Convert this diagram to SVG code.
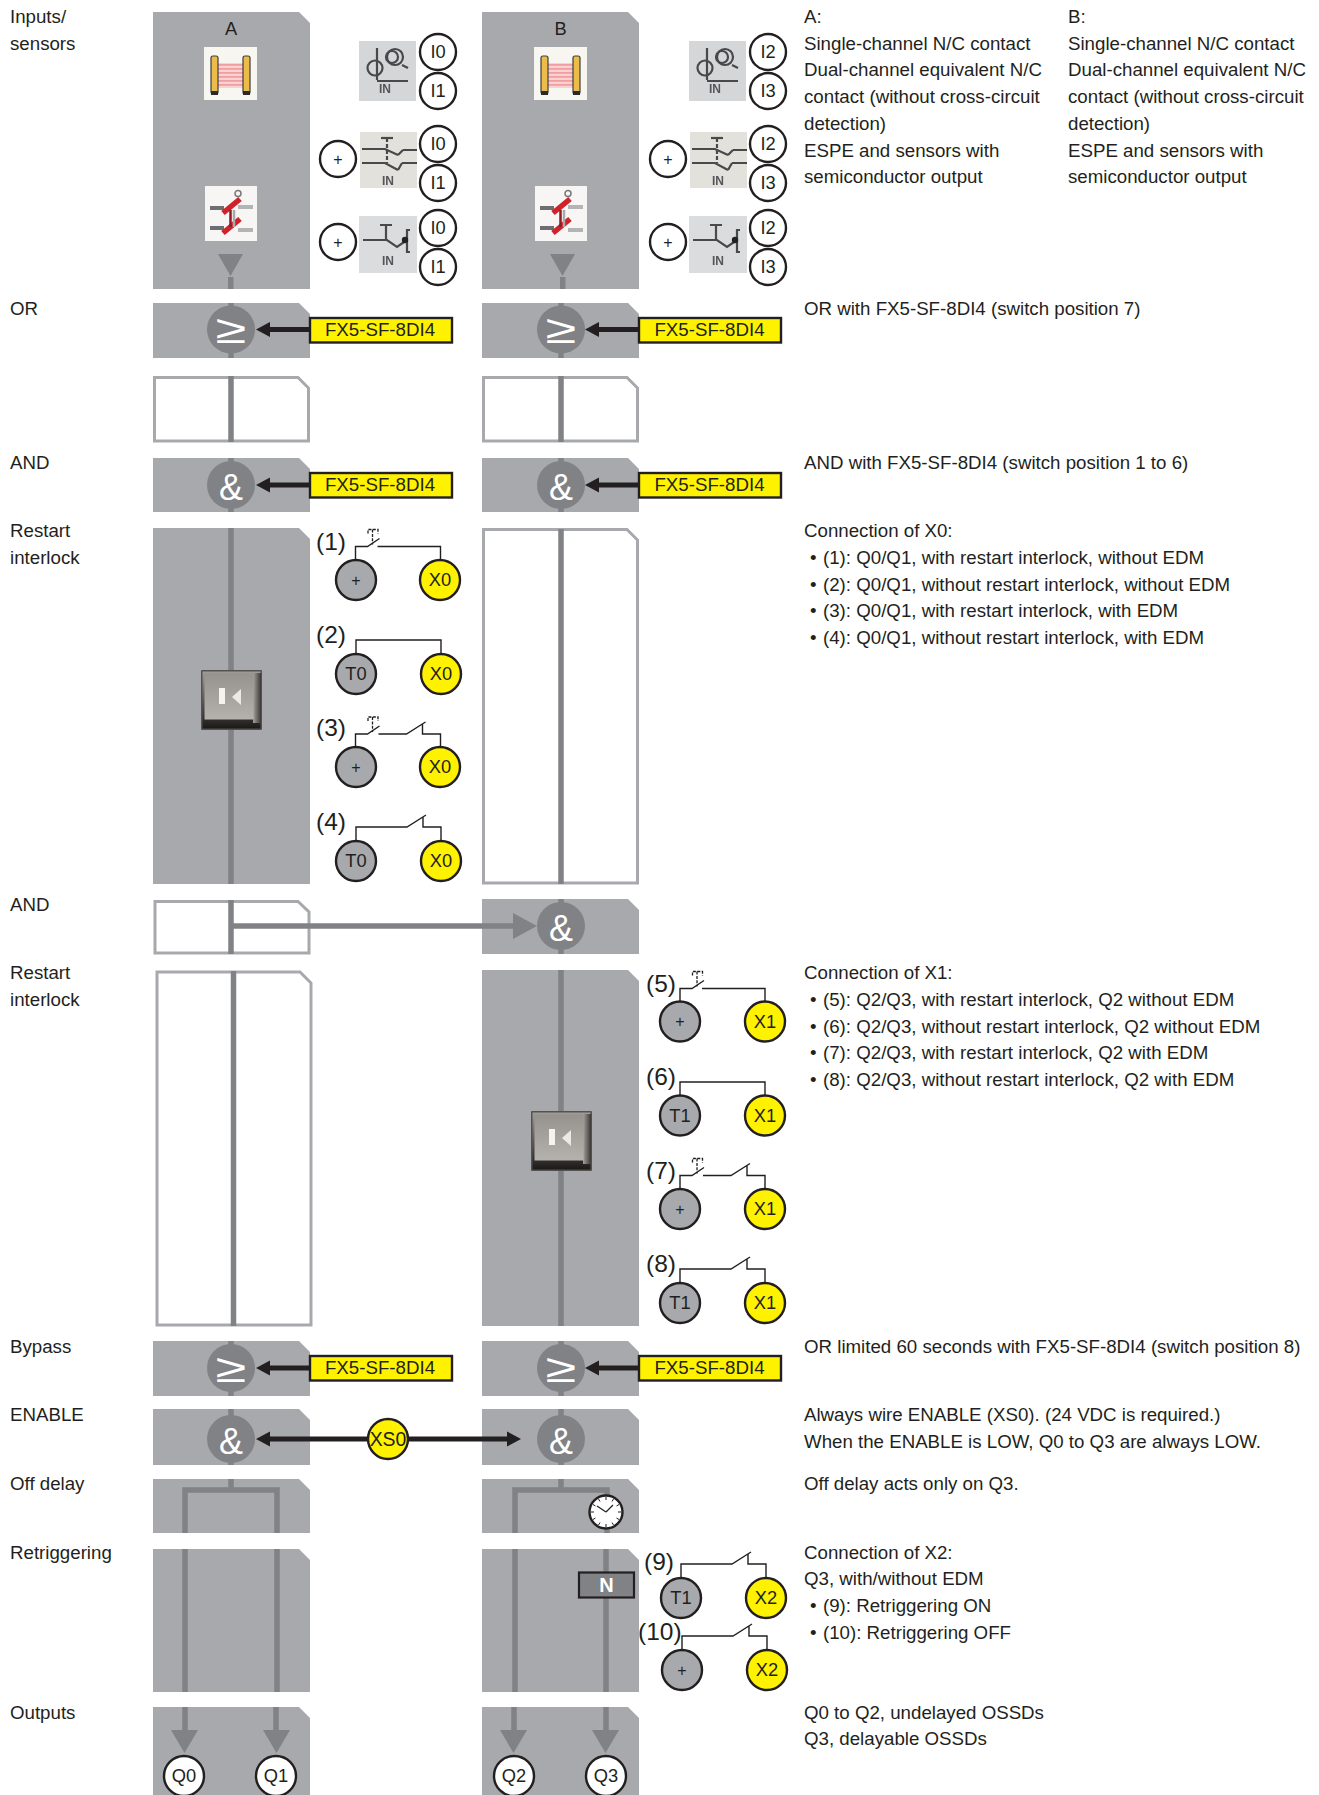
<svg xmlns="http://www.w3.org/2000/svg" width="1319" height="1795" viewBox="0 0 1319 1795">
<style>
text{font-family:"Liberation Sans",Arial,sans-serif;fill:#231f20}
.t{font-size:18.7px}
.p{fill:#a7a9ac}
.b{fill:#fff;stroke:#a7a9ac;stroke-width:3}
.s{fill:none;stroke:#808285;stroke-width:5.5}
.g{fill:#808285}
.ge{font-size:40px;fill:#fff;text-anchor:middle}
.am{font-size:36px;fill:#fff;text-anchor:middle}
.w{fill:#fff;stroke:#231f20;stroke-width:2.4}
.y{fill:#fff200;stroke:#231f20;stroke-width:2.4}
.d{fill:#a7a9ac;stroke:#231f20;stroke-width:2.4}
.c{font-size:18.3px;text-anchor:middle}
.pl{font-size:16px;text-anchor:middle}
.bx{font-size:18.7px;text-anchor:middle}
.n{font-size:24.5px}
.wire{fill:none;stroke:#231f20;stroke-width:1.4}
.dash{fill:none;stroke:#231f20;stroke-width:1.3;stroke-dasharray:3 1.4}
.ar{fill:none;stroke:#231f20;stroke-width:4.8}
.ah{fill:#231f20}
.box{fill:#fff200;stroke:#231f20;stroke-width:2.4}
.ic{fill:none;stroke:#47484b;stroke-width:2.2}
.in{font-size:12px;font-weight:bold;text-anchor:middle;fill:#55565a}
</style>
<defs>
<filter id="soft" x="-5%" y="-5%" width="110%" height="110%"><feGaussianBlur stdDeviation="0.7"/></filter>
<linearGradient id="btnB" x1="0" y1="0" x2="0" y2="1"><stop offset="0" stop-color="#a09c98"/><stop offset="1" stop-color="#1c1a19"/></linearGradient>
<linearGradient id="btnR" x1="0" y1="0" x2="1" y2="0"><stop offset="0" stop-color="#a5a19d"/><stop offset="1" stop-color="#3a3735"/></linearGradient>
<linearGradient id="btnF" x1="0" y1="0" x2="0" y2="1"><stop offset="0" stop-color="#96928e"/><stop offset="1" stop-color="#b5b1ad"/></linearGradient>
<g id="curtain" filter="url(#soft)">
<rect width="53" height="53" fill="#f8f6f1"/>
<rect x="13" y="16" width="27" height="25" fill="#f9d3d2"/>
<g fill="#ef9fa2"><rect x="13" y="17" width="27" height="1.800"/><rect x="13" y="21" width="27" height="1.800"/><rect x="13" y="25" width="27" height="1.800"/><rect x="13" y="29" width="27" height="1.800"/><rect x="13" y="33" width="27" height="1.800"/><rect x="13" y="37" width="27" height="1.800"/></g>
<rect x="7" y="9" width="7" height="38" rx="2" fill="#ecbc4b" stroke="#3f3e3a" stroke-width="1.200"/>
<rect x="39" y="9" width="7" height="38" rx="2" fill="#ecbc4b" stroke="#3f3e3a" stroke-width="1.200"/>
<rect x="7" y="44" width="7" height="4" fill="#2c2c2a"/><rect x="39" y="44" width="7" height="4" fill="#2c2c2a"/>
</g>
<g id="guard" filter="url(#soft)">
<rect width="52" height="55" fill="#f7f6f4"/>
<path d="M5 22H19M5 42H19" stroke="#6d6e71" stroke-width="4"/>
<path d="M33 21H48M33 44H48" stroke="#b3b4b6" stroke-width="4"/>
<circle cx="33" cy="7.500" r="3" fill="none" stroke="#77787b" stroke-width="1.500"/>
<path d="M35 13L18 27M35 33L18 47" stroke="#cf2229" stroke-width="5.500"/>
<path d="M25.500 24V41" stroke="#8e1a20" stroke-width="2.500"/><path d="M29 24V41" stroke="#a8a9ab" stroke-width="2.500"/>
</g>
<g id="sw1" filter="url(#soft)">
<rect width="57" height="60" fill="#d5d6d8"/>
<circle cx="16" cy="27" r="7.500" class="ic"/><path d="M18 7V39M18 40H49" class="ic"/>
<circle cx="36" cy="16" r="8" class="ic"/><circle cx="33" cy="16" r="6" class="ic"/><path d="M43 24L49 27" class="ic"/>
<text x="26" y="52" class="in">IN</text>
</g>
<g id="sw2" filter="url(#soft)">
<rect width="57" height="56" fill="#e3e1db"/>
<path d="M2 17H25L38 23M43 18H57M2 31H25L38 38M42 31H57" class="ic"/>
<path d="M27 6V31" class="ic" stroke-dasharray="4 2"/><path d="M21 6H33" class="ic"/>
<path d="M38 23L43 18M38 38L42 31" class="ic"/>
<text x="28" y="53" class="in">IN</text>
</g>
<g id="sw3" filter="url(#soft)">
<rect width="58" height="57" fill="#dbdcdd"/>
<path d="M4 24H28L38 31L48 24M27 9V24M21 9H33M51 14H48V36H51" class="ic"/>
<circle cx="46" cy="24" r="3.200" fill="#222"/>
<text x="29" y="49" class="in">IN</text>
</g>
<g id="start"><path d="M0 13V0H12L24 -8M22 0H85V13" class="wire"/><path d="M12.500 -13V-17H22.500V-13M17 -17V-2" class="dash"/></g>
<g id="startedm"><path d="M0 13V0H12L24 -8M23 0H51L70 -12M67 -10V0H85V13" class="wire"/><path d="M12.500 -13V-17H22.500V-13M17 -17V-2" class="dash"/></g>
<g id="edm"><path d="M0 14V0H51L70 -12M67 -10V0H85V14" class="wire"/></g>
<g id="btnG">
<rect width="61" height="60" rx="1" fill="#55514e"/>
<rect x="1.500" y="1.500" width="58" height="57" fill="url(#btnB)"/>
<rect x="52" y="3" width="8" height="50" fill="url(#btnR)"/>
<rect x="3.500" y="3.500" width="49" height="46" fill="url(#btnF)"/>
<g filter="url(#soft)"><rect x="18" y="18" width="6" height="16" fill="#f6f3ee"/><path d="M40 19V35L31 27Z" fill="#ece9e4"/></g>
</g>
</defs>

<g id="lane-labels">
<text class="t" x="10" y="23">Inputs/</text><text class="t" x="10" y="50">sensors</text>
<text class="t" x="10" y="315">OR</text>
<text class="t" x="10" y="469">AND</text>
<text class="t" x="10" y="537">Restart</text><text class="t" x="10" y="564">interlock</text>
<text class="t" x="10" y="911">AND</text>
<text class="t" x="10" y="979">Restart</text><text class="t" x="10" y="1006">interlock</text>
<text class="t" x="10" y="1353">Bypass</text>
<text class="t" x="10" y="1421">ENABLE</text>
<text class="t" x="10" y="1490">Off delay</text>
<text class="t" x="10" y="1559">Retriggering</text>
<text class="t" x="10" y="1719">Outputs</text>
</g>

<g id="panels-a">
<path class="p" d="M153 12H299L310 23V289H153Z"/>
<path class="p" d="M153 303H299L310 314V358H153Z"/>
<path class="b" d="M154.500 377.500H298L308.500 388V441H154.500Z"/>
<path class="p" d="M153 458H299L310 469V512H153Z"/>
<path class="p" d="M153 528H299L310 539V884H153Z"/>
<path class="b" d="M155 901.500H298L309 912V953H155Z"/>
<path class="b" d="M157 972H300L311 983V1325H157Z"/>
<path class="p" d="M153 1341H299L310 1352V1396H153Z"/>
<path class="p" d="M153 1409H299L310 1420V1465H153Z"/>
<path class="p" d="M153 1479H299L310 1490V1533H153Z"/>
<path class="p" d="M153 1549H299L310 1560V1692H153Z"/>
<path class="p" d="M153 1707H299L310 1718V1795H153Z"/>
</g>
<g id="panels-b">
<path class="p" d="M482 12H628L639 23V289H482Z"/>
<path class="p" d="M482 303H628L639 314V358H482Z"/>
<path class="b" d="M483.500 377.500H627L637.500 388V441H483.500Z"/>
<path class="p" d="M482 458H628L639 469V512H482Z"/>
<path class="b" d="M483.500 529.500H627L637.500 540V883H483.500Z"/>
<path class="p" d="M482 899H628L639 910V954H482Z"/>
<path class="p" d="M482 970H628L639 981V1326H482Z"/>
<path class="p" d="M482 1341H628L639 1352V1396H482Z"/>
<path class="p" d="M482 1409H628L639 1420V1465H482Z"/>
<path class="p" d="M482 1479H628L639 1490V1533H482Z"/>
<path class="p" d="M482 1549H628L639 1560V1692H482Z"/>
<path class="p" d="M482 1707H628L639 1718V1795H482Z"/>
</g>

<g id="connectors">
<path class="s" d="M231 303V358M231 376V442M231 458V512M231 528V884M231 900V954"/>
<path class="s" d="M233.500 971V1326"/>
<path class="s" d="M231 1341V1396M231 1409V1465M231 1479V1490M185 1533V1490H277V1533"/>
<path class="s" d="M185 1549V1692M277 1549V1692M185 1707V1735M276 1707V1735"/>
<path class="s" d="M561 303V358M561 376V442M561 458V512M561 529V884M561 899V954M561 970V1326"/>
<path class="s" d="M561 1341V1396M561 1409V1465M561 1479V1490M515 1533V1490H607V1533"/>
<path class="s" d="M515 1549V1692M606 1549V1692M514 1707V1735M606 1707V1735"/>
<path class="s" d="M231 926H516"/>
<path class="g" d="M513 913L537 926L513 939Z"/>
<path class="g" d="M171 1730H198L184.500 1753Z"/><path class="g" d="M263 1730H290L276.500 1753Z"/>
<path class="g" d="M500 1730H527L513.500 1753Z"/><path class="g" d="M592 1730H619L605.500 1753Z"/>
<path class="g" d="M218 254H243L230.500 276Z"/><rect class="g" x="228" y="277" width="5.500" height="12"/>
<path class="g" d="M550 254H575L562.500 276Z"/><rect class="g" x="560" y="277" width="5.500" height="12"/>

<path class="ar" d="M309 329.500H267"/><path class="ah" d="M256 329.500L270 322V337Z"/>
<path class="ar" d="M639 329.500H596"/><path class="ah" d="M585 329.500L599 322V337Z"/>
<path class="ar" d="M309 485H267"/><path class="ah" d="M256 485L270 477.500V492.500Z"/>
<path class="ar" d="M639 485H596"/><path class="ah" d="M585 485L599 477.500V492.500Z"/>
<path class="ar" d="M309 1368H267"/><path class="ah" d="M256 1368L270 1360.500V1375.500Z"/>
<path class="ar" d="M639 1368H596"/><path class="ah" d="M585 1368L599 1360.500V1375.500Z"/>
<path class="ar" d="M267 1439H510"/><path class="ah" d="M256 1439L270 1431.500V1446.500Z"/><path class="ah" d="M521 1439L507 1431.500V1446.500Z"/>
<use href="#start" transform="translate(355.500 546.500)"/>
<path class="wire" d="M356 654V640H441V654"/>
<use href="#startedm" transform="translate(355.500 734)"/>
<use href="#edm" transform="translate(356 827)"/>
<use href="#start" transform="translate(680 988.500)"/>
<path class="wire" d="M680 1096V1082H765V1096"/>
<use href="#startedm" transform="translate(680 1175.500)"/>
<use href="#edm" transform="translate(680 1269)"/>
<use href="#edm" transform="translate(681 1564)"/>
<use href="#edm" transform="translate(682 1636)"/>
</g>

<g id="gates">
<g id="gate-or-a"><circle class="g" cx="231" cy="329.500" r="24"/><text class="ge" transform="translate(231 343) scale(1.4 1)">≥</text></g>
<g id="gate-or-b"><circle class="g" cx="561" cy="329.500" r="24"/><text class="ge" transform="translate(561 343) scale(1.4 1)">≥</text></g>
<g id="gate-and-a"><circle class="g" cx="231" cy="485" r="24"/><text class="am" x="231" y="499.500">&amp;</text></g>
<g id="gate-and-b"><circle class="g" cx="561" cy="485" r="24"/><text class="am" x="561" y="499.500">&amp;</text></g>
<g id="gate-and2-b"><circle class="g" cx="561" cy="926" r="24"/><text class="am" x="561" y="940.500">&amp;</text></g>
<g id="gate-bypass-a"><circle class="g" cx="231" cy="1368" r="24"/><text class="ge" transform="translate(231 1381.500) scale(1.4 1)">≥</text></g>
<g id="gate-bypass-b"><circle class="g" cx="561" cy="1368" r="24"/><text class="ge" transform="translate(561 1381.500) scale(1.4 1)">≥</text></g>
<g id="gate-enable-a"><circle class="g" cx="231" cy="1439" r="24"/><text class="am" x="231" y="1453.500">&amp;</text></g>
<g id="gate-enable-b"><circle class="g" cx="561" cy="1439" r="24"/><text class="am" x="561" y="1453.500">&amp;</text></g>
</g>

<g id="module-boxes">
<g><rect class="box" x="310" y="318" width="142" height="24.500"/><text class="bx" x="380" y="335.500">FX5-SF-8DI4</text></g>
<g><rect class="box" x="639" y="318" width="142" height="24.500"/><text class="bx" x="709.500" y="335.500">FX5-SF-8DI4</text></g>
<g><rect class="box" x="310" y="473" width="142" height="24.500"/><text class="bx" x="380" y="490.500">FX5-SF-8DI4</text></g>
<g><rect class="box" x="639" y="473" width="142" height="24.500"/><text class="bx" x="709.500" y="490.500">FX5-SF-8DI4</text></g>
<g><rect class="box" x="310" y="1356" width="142" height="24.500"/><text class="bx" x="380" y="1374">FX5-SF-8DI4</text></g>
<g><rect class="box" x="639" y="1356" width="142" height="24.500"/><text class="bx" x="709.500" y="1374">FX5-SF-8DI4</text></g>
</g>

<g id="input-a">
<text class="c" x="231" y="35">A</text>
<use href="#curtain" x="204" y="47"/><use href="#guard" x="205" y="186"/>
<use href="#sw1" x="359" y="41"/><use href="#sw2" x="360" y="132"/><use href="#sw3" x="359" y="216"/>
<circle class="w" cx="438" cy="52" r="18"/><text class="c" x="438" y="58">I0</text>
<circle class="w" cx="438" cy="91" r="18"/><text class="c" x="438" y="97">I1</text>
<circle class="w" cx="338" cy="159" r="18"/><text class="pl" x="338" y="164.500">+</text>
<circle class="w" cx="438" cy="144" r="18"/><text class="c" x="438" y="149.500">I0</text>
<circle class="w" cx="438" cy="183" r="18"/><text class="c" x="438" y="188.500">I1</text>
<circle class="w" cx="338" cy="242" r="18"/><text class="pl" x="338" y="247.500">+</text>
<circle class="w" cx="438" cy="228" r="18"/><text class="c" x="438" y="233.500">I0</text>
<circle class="w" cx="438" cy="267" r="18"/><text class="c" x="438" y="272.500">I1</text>
</g>
<g id="input-b">
<text class="c" x="560.500" y="35">B</text>
<use href="#curtain" x="534" y="47"/><use href="#guard" x="535" y="186"/>
<use href="#sw1" x="689" y="41"/><use href="#sw2" x="690" y="132"/><use href="#sw3" x="689" y="216"/>
<circle class="w" cx="768" cy="52" r="18"/><text class="c" x="768" y="58">I2</text>
<circle class="w" cx="768" cy="91" r="18"/><text class="c" x="768" y="97">I3</text>
<circle class="w" cx="668" cy="159" r="18"/><text class="pl" x="668" y="164.500">+</text>
<circle class="w" cx="768" cy="144" r="18"/><text class="c" x="768" y="149.500">I2</text>
<circle class="w" cx="768" cy="183" r="18"/><text class="c" x="768" y="188.500">I3</text>
<circle class="w" cx="668" cy="242" r="18"/><text class="pl" x="668" y="247.500">+</text>
<circle class="w" cx="768" cy="228" r="18"/><text class="c" x="768" y="233.500">I2</text>
<circle class="w" cx="768" cy="267" r="18"/><text class="c" x="768" y="272.500">I3</text>
</g>

<g id="restart-a">
<use href="#btnG" x="201" y="670"/>
<text class="n" x="316" y="550">(1)</text>
<circle class="d" cx="356" cy="580" r="20"/><text class="pl" x="356" y="585.500">+</text>
<circle class="y" cx="440" cy="580" r="20"/><text class="c" x="440" y="585.500">X0</text>
<text class="n" x="316" y="643">(2)</text>
<circle class="d" cx="356" cy="674" r="20"/><text class="c" x="356" y="680">T0</text>
<circle class="y" cx="441" cy="674" r="20"/><text class="c" x="441" y="680">X0</text>
<text class="n" x="316" y="736">(3)</text>
<circle class="d" cx="356" cy="767" r="20"/><text class="pl" x="356" y="772.500">+</text>
<circle class="y" cx="440" cy="767" r="20"/><text class="c" x="440" y="773">X0</text>
<text class="n" x="316" y="830">(4)</text>
<circle class="d" cx="356" cy="861" r="20"/><text class="c" x="356" y="867">T0</text>
<circle class="y" cx="441" cy="861" r="20"/><text class="c" x="441" y="867">X0</text>
</g>

<g id="restart-b">
<use href="#btnG" x="531" y="1111"/>
<text class="n" x="646" y="992">(5)</text>
<circle class="d" cx="680" cy="1021.500" r="20"/><text class="pl" x="680" y="1027">+</text>
<circle class="y" cx="765" cy="1021.500" r="20"/><text class="c" x="765" y="1027.500">X1</text>
<text class="n" x="646" y="1085">(6)</text>
<circle class="d" cx="680" cy="1115.500" r="20"/><text class="c" x="680" y="1121.500">T1</text>
<circle class="y" cx="765" cy="1115.500" r="20"/><text class="c" x="765" y="1121.500">X1</text>
<text class="n" x="646" y="1179">(7)</text>
<circle class="d" cx="680" cy="1209" r="20"/><text class="pl" x="680" y="1214.500">+</text>
<circle class="y" cx="765" cy="1209" r="20"/><text class="c" x="765" y="1215">X1</text>
<text class="n" x="646" y="1272">(8)</text>
<circle class="d" cx="680" cy="1303" r="20"/><text class="c" x="680" y="1309">T1</text>
<circle class="y" cx="765" cy="1303" r="20"/><text class="c" x="765" y="1309">X1</text>
</g>

<g id="xs0"><circle class="y" cx="388" cy="1439" r="20"/><text class="c" style="font-size:19.4px" x="388" y="1446">XS0</text></g>

<g id="clock">
<circle class="w" cx="606" cy="1512" r="16.500"/>
<path d="M606 1512L597 1506M606 1512L613 1505" fill="none" stroke="#231f20" stroke-width="1.2"/>
<path d="M606 1497V1500M606 1524V1527M591 1512H594M618 1512H621M598.500 1499L600 1501.500M613.500 1499L612 1501.500M598.500 1525L600 1522.500M613.500 1525L612 1522.500M593 1504.500L595.500 1506M619 1504.500L616.500 1506M593 1519.500L595.500 1518M619 1519.500L616.500 1518" stroke="#231f20" stroke-width="1"/>
</g>

<g id="retrigger">
<rect x="579" y="1572.500" width="55" height="25" fill="#808285" stroke="#231f20" stroke-width="2.200"/>
<text x="606.500" y="1592" text-anchor="middle" style="fill:#fff;font-size:20px;font-weight:bold">N</text>
<text class="n" x="644" y="1570">(9)</text>
<circle class="d" cx="681" cy="1598" r="20"/><text class="c" x="681" y="1604">T1</text>
<circle class="y" cx="766" cy="1598" r="20"/><text class="c" x="766" y="1604">X2</text>
<text class="n" x="638" y="1640">(10)</text>
<circle class="d" cx="682" cy="1670" r="20"/><text class="pl" x="682" y="1675.500">+</text>
<circle class="y" cx="767" cy="1670" r="20"/><text class="c" x="767" y="1676">X2</text>
</g>

<g id="outputs">
<circle class="w" cx="184" cy="1776" r="20"/><text class="c" x="184" y="1782">Q0</text>
<circle class="w" cx="276" cy="1776" r="20"/><text class="c" x="276" y="1782">Q1</text>
<circle class="w" cx="514" cy="1776" r="20"/><text class="c" x="514" y="1782">Q2</text>
<circle class="w" cx="606" cy="1776" r="20"/><text class="c" x="606" y="1782">Q3</text>
</g>

<g id="notes">
<text class="t" x="804" y="23">A:</text>
<text class="t" x="804" y="50">Single-channel N/C contact</text>
<text class="t" x="804" y="76">Dual-channel equivalent N/C</text>
<text class="t" x="804" y="103">contact (without cross-circuit</text>
<text class="t" x="804" y="130">detection)</text>
<text class="t" x="804" y="157">ESPE and sensors with</text>
<text class="t" x="804" y="183">semiconductor output</text>
<text class="t" x="1068" y="23">B:</text>
<text class="t" x="1068" y="50">Single-channel N/C contact</text>
<text class="t" x="1068" y="76">Dual-channel equivalent N/C</text>
<text class="t" x="1068" y="103">contact (without cross-circuit</text>
<text class="t" x="1068" y="130">detection)</text>
<text class="t" x="1068" y="157">ESPE and sensors with</text>
<text class="t" x="1068" y="183">semiconductor output</text>
<text class="t" x="804" y="315">OR with FX5-SF-8DI4 (switch position 7)</text>
<text class="t" x="804" y="469">AND with FX5-SF-8DI4 (switch position 1 to 6)</text>
<text class="t" x="804" y="537">Connection of X0:</text>
<text class="t" x="810" y="564">•</text><text class="t" x="823" y="564">(1): Q0/Q1, with restart interlock, without EDM</text>
<text class="t" x="810" y="591">•</text><text class="t" x="823" y="591">(2): Q0/Q1, without restart interlock, without EDM</text>
<text class="t" x="810" y="617">•</text><text class="t" x="823" y="617">(3): Q0/Q1, with restart interlock, with EDM</text>
<text class="t" x="810" y="644">•</text><text class="t" x="823" y="644">(4): Q0/Q1, without restart interlock, with EDM</text>
<text class="t" x="804" y="979">Connection of X1:</text>
<text class="t" x="810" y="1006">•</text><text class="t" x="823" y="1006">(5): Q2/Q3, with restart interlock, Q2 without EDM</text>
<text class="t" x="810" y="1033">•</text><text class="t" x="823" y="1033">(6): Q2/Q3, without restart interlock, Q2 without EDM</text>
<text class="t" x="810" y="1059">•</text><text class="t" x="823" y="1059">(7): Q2/Q3, with restart interlock, Q2 with EDM</text>
<text class="t" x="810" y="1086">•</text><text class="t" x="823" y="1086">(8): Q2/Q3, without restart interlock, Q2 with EDM</text>
<text class="t" x="804" y="1353">OR limited 60 seconds with FX5-SF-8DI4 (switch position 8)</text>
<text class="t" x="804" y="1421">Always wire ENABLE (XS0). (24 VDC is required.)</text>
<text class="t" x="804" y="1448">When the ENABLE is LOW, Q0 to Q3 are always LOW.</text>
<text class="t" x="804" y="1490">Off delay acts only on Q3.</text>
<text class="t" x="804" y="1559">Connection of X2:</text>
<text class="t" x="804" y="1585">Q3, with/without EDM</text>
<text class="t" x="810" y="1612">•</text><text class="t" x="823" y="1612">(9): Retriggering ON</text>
<text class="t" x="810" y="1639">•</text><text class="t" x="823" y="1639">(10): Retriggering OFF</text>
<text class="t" x="804" y="1719">Q0 to Q2, undelayed OSSDs</text>
<text class="t" x="804" y="1745">Q3, delayable OSSDs</text>
</g>
</svg>
